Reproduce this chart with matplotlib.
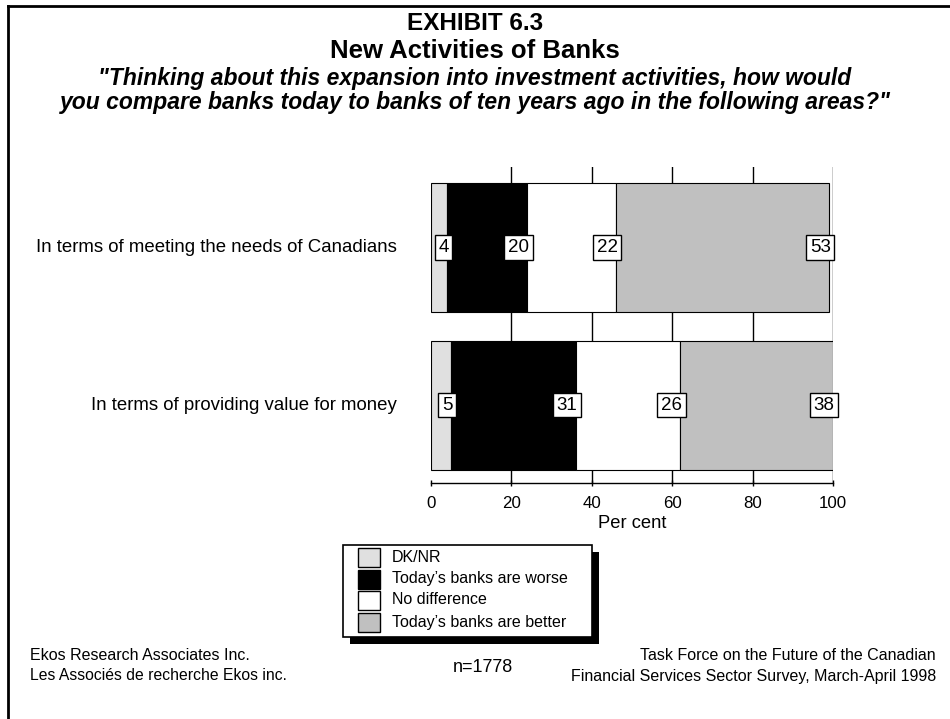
import matplotlib
matplotlib.use("Agg")
import matplotlib.pyplot as plt
from matplotlib.patches import Rectangle
from matplotlib.lines import Line2D
import numpy as np

plt.rcParams['font.family'] = ['Liberation Sans', 'DejaVu Sans']

categories = ["In terms of meeting the needs of Canadians",
              "In terms of providing value for money"]
series_names = ["DK/NR", "Today\u2019s banks are worse", "No difference",
                "Today\u2019s banks are better"]
dknr = [4, 5]
worse = [20, 31]
nodiff = [22, 26]
better = [53, 38]
series_values = [dknr, worse, nodiff, better]
colors = ["#e0e0e0", "#000000", "#ffffff", "#c0c0c0"]
xticks = [0, 20, 40, 60, 80, 100]

W, H = 950, 719
fig = plt.figure(figsize=(9.5, 7.19), dpi=100)

def fx(px):
    return px / W

def fy(py):
    return 1 - py / H

# outer frame
fig.add_artist(Line2D([fx(7.5), 1.0], [fy(5.5), fy(5.5)], color='black', lw=2))
fig.add_artist(Line2D([fx(7.5), fx(7.5)], [fy(5.5), 0.0], color='black', lw=2))

ax = fig.add_axes([fx(431), fy(483), fx(833) - fx(431), fy(167) - fy(483)])
ypos = [1, 0]
ax.set_xlim(0, 100)
ax.set_ylim(-0.495, 1.511)

for x in xticks[1:]:
    ax.axvline(x, color='black', lw=1, zorder=0)

left = np.zeros(len(categories))
for vals, col in zip(series_values, colors):
    ax.barh(ypos, vals, left=left, height=0.819, color=col, edgecolor='black',
            linewidth=0.8, zorder=2)
    ends = left + np.array(vals)
    for y, e, v in zip(ypos, ends, vals):
        ax.text(e + 0.4, y, str(v), ha='right', va='center', fontsize=13.5,
                zorder=5,
                bbox=dict(boxstyle='square,pad=0.2', facecolor='white',
                          edgecolor='black', linewidth=1))
    left = ends

for s in ['top', 'right', 'left']:
    ax.spines[s].set_visible(False)
ax.spines['bottom'].set_linewidth(1)
ax.set_yticks([])
ax.set_xticks(xticks)
ax.tick_params(axis='x', direction='inout', length=5, width=1, labelsize=12.2,
               pad=7)
ax.set_xlabel("Per cent", fontsize=13.2, labelpad=3)

for y, c in zip(ypos, categories):
    ax.annotate(c, xy=(0, y), xycoords='data', xytext=(-34, 0),
                textcoords='offset pixels', ha='right', va='center',
                fontsize=13.4)

# titles
fig.text(0.5, fy(23), "EXHIBIT 6.3", ha='center', va='center', fontsize=17.5,
         fontweight='bold')
fig.text(0.5, fy(51), "New Activities of Banks", ha='center', va='center',
         fontsize=18.5, fontweight='bold')
fig.text(0.5, fy(79), "\"Thinking about this expansion into investment activities, how would",
         ha='center', va='center', fontsize=16.5, fontweight='bold', style='italic')
fig.text(0.5, fy(103), "you compare banks today to banks of ten years ago in the following areas?\"",
         ha='center', va='center', fontsize=16.5, fontweight='bold', style='italic')

# legend (box with solid drop shadow)
lx0, ly0, lx1, ly1 = 343, 545, 592, 637
fig.add_artist(Rectangle((fx(lx0 + 7), fy(ly1 + 7)), fx(lx1 - lx0), (ly1 - ly0) / H,
                         facecolor='black', edgecolor='none', zorder=4))
fig.add_artist(Rectangle((fx(lx0), fy(ly1)), fx(lx1 - lx0), (ly1 - ly0) / H,
                         facecolor='white', edgecolor='black', linewidth=1.2,
                         zorder=5))
row_centers = [557, 579, 600, 622]
for name, col, rc in zip(series_names, colors, row_centers):
    fig.add_artist(Rectangle((fx(358), fy(rc + 9.5)), fx(22), 19 / H,
                             facecolor=col, edgecolor='black', linewidth=1,
                             zorder=6))
    fig.text(fx(392), fy(rc), name, ha='left', va='center', fontsize=11.5,
             zorder=6)

# footer
fig.text(fx(30), fy(656), "Ekos Research Associates Inc.", ha='left', va='center',
         fontsize=11.5)
fig.text(fx(30), fy(676), "Les Associ\u00e9s de recherche Ekos inc.", ha='left',
         va='center', fontsize=11.3)
fig.text(fx(483), fy(667), "n=1778", ha='center', va='center', fontsize=13)
fig.text(fx(936), fy(656), "Task Force on the Future of the Canadian", ha='right',
         va='center', fontsize=11.5)
fig.text(fx(936), fy(676), "Financial Services Sector Survey, March-April 1998",
         ha='right', va='center', fontsize=11.5)

fig.savefig("out.png", dpi=100)
